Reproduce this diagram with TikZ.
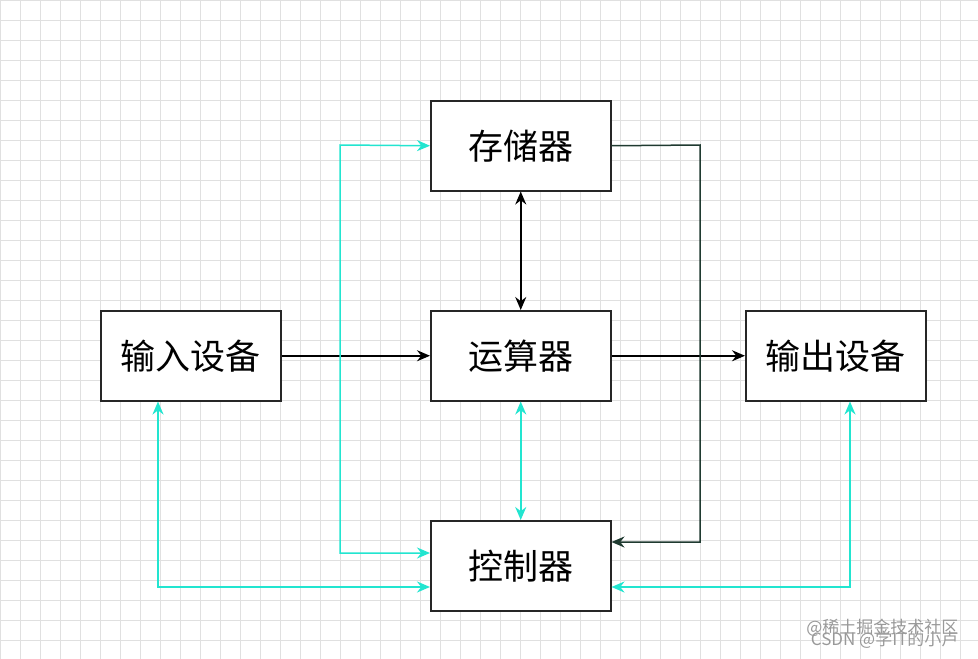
\documentclass[tikz,border=0pt]{standalone}
\usepackage{fontspec}
\setmainfont{Noto Sans CJK SC}
\usetikzlibrary{arrows.meta}
\definecolor{cy}{HTML}{22E5D0}
\definecolor{dk}{HTML}{1F3A30}
\begin{document}
\begin{tikzpicture}[x=1pt,y=-1pt,
  box/.style={draw=black!85,line width=1.5pt,fill=white,minimum width=180pt,minimum height=90pt,inner sep=0pt,font=\fontsize{35}{40}\selectfont,anchor=north west},
  bl/.style={line width=1.5pt,-{Stealth[length=13pt,width=11pt]}},
  cl/.style={cy,line width=1.5pt,{Stealth[length=13pt,width=11pt]}-{Stealth[length=13pt,width=11pt]}}]
\useasboundingbox (0,0) rectangle (978,659);
\fill[white] (0,0) rectangle (978,659);
\foreach \k in {0,20,...,960} \draw[black!12,line width=0.6pt] (\k,0) -- (\k,659);
\foreach \k in {0,20,...,640} \draw[black!12,line width=0.6pt] (0,\k) -- (978,\k);
\node[box] (m) at (430,100) {存储器};
\node[box] (a) at (430,310) {运算器};
\node[box] (c) at (430,520) {控制器};
\node[box] (i) at (100,310) {输入设备};
\node[box] (o) at (745,310) {输出设备};
\draw[bl] (i.east) -- (a.west);
\draw[bl] (a.east) -- (o.west);
\draw[bl,{Stealth[length=13pt,width=11pt]}-{Stealth[length=13pt,width=11pt]}] (m.south) -- (a.north);
\coordinate (r1) at (700,145); \coordinate (r2) at (700,542);
\draw[bl,dk] (m.east) -- (r1) -- (r2) -- (c.east |- r2);
\coordinate (l1) at (340,553); \coordinate (l2) at (340,145);
\draw[cl] (c.west |- l1) -- (l1) -- (l2) -- (m.west);
\draw[cl] (a.south) -- (c.north);
\coordinate (b1) at (158,587); \coordinate (b2) at (850,587);
\draw[cl] (i.south -| b1) -- (b1) -- (c.west |- b1);
\draw[cl] (o.south -| b2) -- (b2) -- (c.east |- b2);
\node[gray!80,font=\fontsize{17}{17}\selectfont,anchor=east] (w1) at (962,628) {@稀土掘金技术社区};
\node[gray!80,font=\fontsize{17}{17}\selectfont,anchor=east] (w2) at (962,640) {CSDN @学IT的小卢};
\end{tikzpicture}
\end{document}
